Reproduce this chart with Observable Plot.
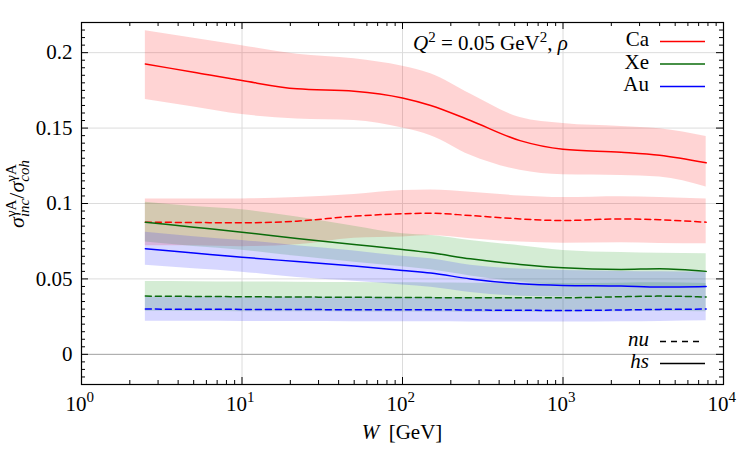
<!DOCTYPE html>
<html>
<head>
<meta charset="utf-8">
<script src="https://cdn.jsdelivr.net/npm/d3@7"></script>
<script src="https://cdn.jsdelivr.net/npm/@observablehq/plot@0.6"></script>
<style>
  body { margin: 0; background: #fff; }
  svg { display: block; }
</style>
</head>
<body>
<div id="chart"></div>
<script>
// Photon-nucleus incoherent/coherent cross-section ratio vs W, Q^2 = 0.05 GeV^2, rho meson.
// "hs" = hot-spot model (solid), "nu" = no-substructure model (dashed); bands = uncertainty.
const W = [2.5, 5, 10, 22, 50, 100, 150, 265, 540, 1000, 2300, 4000, 7800];

const caHs   = [0.1925, 0.1870, 0.1815, 0.1760, 0.1745, 0.1700, 0.1650, 0.1550, 0.1417, 0.1360, 0.1340, 0.1320, 0.1270];
const caHsHi = [0.2146, 0.2095, 0.2046, 0.1990, 0.1960, 0.1910, 0.1860, 0.1726, 0.1570, 0.1530, 0.1510, 0.1495, 0.1444];
const caHsLo = [0.1690, 0.1640, 0.1590, 0.1560, 0.1550, 0.1500, 0.1450, 0.1320, 0.1220, 0.1190, 0.1185, 0.1175, 0.1110];
const caNu   = [0.0876, 0.0874, 0.0872, 0.0883, 0.0916, 0.0932, 0.0936, 0.0920, 0.0898, 0.0887, 0.0898, 0.0892, 0.0876];
const caNuHi = [0.1030, 0.1030, 0.1030, 0.1040, 0.1060, 0.1086, 0.1090, 0.1075, 0.1050, 0.1040, 0.1045, 0.1040, 0.1030];
const caNuLo = [0.0720, 0.0720, 0.0714, 0.0726, 0.0770, 0.0778, 0.0788, 0.0766, 0.0744, 0.0737, 0.0740, 0.0735, 0.0733];

const xeHs   = [0.0876, 0.0843, 0.0810, 0.0768, 0.0728, 0.0695, 0.0673, 0.0633, 0.0596, 0.0574, 0.0563, 0.0567, 0.0550];
const xeHsHi = [0.1009, 0.0980, 0.0958, 0.0910, 0.0850, 0.0800, 0.0788, 0.0755, 0.0720, 0.0689, 0.0675, 0.0670, 0.0667];
const xeHsLo = [0.0745, 0.0715, 0.0690, 0.0650, 0.0610, 0.0580, 0.0560, 0.0520, 0.0480, 0.0460, 0.0450, 0.0450, 0.0440];
const xeNu   = [0.0386, 0.0384, 0.0382, 0.0380, 0.0378, 0.0377, 0.0376, 0.0375, 0.0375, 0.0375, 0.0382, 0.0386, 0.0380];
const xeNuHi = [0.0483, 0.0482, 0.0480, 0.0478, 0.0476, 0.0474, 0.0473, 0.0472, 0.0471, 0.0470, 0.0472, 0.0474, 0.0470];
const xeNuLo = [0.0285, 0.0284, 0.0283, 0.0282, 0.0281, 0.0280, 0.0280, 0.0279, 0.0279, 0.0279, 0.0282, 0.0284, 0.0282];

const auHs   = [0.0700, 0.0672, 0.0644, 0.0615, 0.0585, 0.0556, 0.0539, 0.0500, 0.0468, 0.0457, 0.0453, 0.0446, 0.0450];
const auHsHi = [0.0810, 0.0780, 0.0755, 0.0720, 0.0685, 0.0650, 0.0633, 0.0590, 0.0565, 0.0556, 0.0550, 0.0548, 0.0546];
const auHsLo = [0.0590, 0.0567, 0.0545, 0.0510, 0.0485, 0.0460, 0.0445, 0.0410, 0.0385, 0.0380, 0.0378, 0.0376, 0.0375];
const auNu   = [0.0300, 0.0299, 0.0298, 0.0297, 0.0296, 0.0296, 0.0296, 0.0294, 0.0292, 0.0291, 0.0294, 0.0298, 0.0300];
const auNuHi = [0.0380, 0.0380, 0.0379, 0.0378, 0.0378, 0.0377, 0.0377, 0.0376, 0.0375, 0.0375, 0.0377, 0.0379, 0.0380];
const auNuLo = [0.0220, 0.0219, 0.0218, 0.0217, 0.0216, 0.0216, 0.0216, 0.0215, 0.0214, 0.0214, 0.0216, 0.0218, 0.0222];

const nuclei = ["Ca", "Xe", "Au"];
const colors = { Ca: "#ff0000", Xe: "#0a6b0a", Au: "#0000ff" };
const bandColors = { Ca: "#ff1a1a", Xe: "#1a9a1a", Au: "#2a2aff" };

// Axis ticks
const xMajor = [1, 10, 100, 1000, 10000];
const xExponents = ["0", "1", "2", "3", "4"];
const yMajor = [0, 0.05, 0.1, 0.15, 0.2];
const yTickLabels = ["0", "0.05", "0.1", "0.15", "0.2"];
const xMinor = [];
for (let d = 0; d < 4; d++) for (let k = 2; k <= 9; k++) xMinor.push(k * 10 ** d);
const yMinor = [];
for (let i = -3; i <= 43; i++) if (i % 10 !== 0) yMinor.push(i * 0.005);

// Tidy rows
const table = {
  Ca: { hs: [caHs, caHsLo, caHsHi], nu: [caNu, caNuLo, caNuHi] },
  Xe: { hs: [xeHs, xeHsLo, xeHsHi], nu: [xeNu, xeNuLo, xeNuHi] },
  Au: { hs: [auHs, auHsLo, auHsHi], nu: [auNu, auNuLo, auNuHi] }
};
const rows = [];
for (const n of nuclei) for (const model of ["hs", "nu"]) {
  const [v, lo, hi] = table[n][model];
  W.forEach((w, i) => rows.push({ nucleus: n, model, W: w, y: v[i], lo: lo[i], hi: hi[i] }));
}

const width = 750, height = 450;
const mL = 81, mR = 27, mT = 22, mB = 66;
const PW = width - mL - mR, PH = height - mT - mB;
const FONT = "'Liberation Serif', 'DejaVu Serif', serif";
const majLen = 7, minLen = 4;

const marks = [
  Plot.ruleX(xMajor.slice(1, -1), { stroke: "#dcdcdc", strokeWidth: 1 }),
  Plot.ruleY(yMajor.slice(1), { stroke: "#dcdcdc", strokeWidth: 1 }),
  Plot.ruleY([0], { stroke: "#a0a0a0", strokeWidth: 1 })
];
for (const n of nuclei) for (const model of ["hs", "nu"]) {
  marks.push(Plot.areaY(rows, {
    filter: d => d.nucleus === n && d.model === model,
    x: "W", y1: "lo", y2: "hi", fill: bandColors[n], fillOpacity: 0.19, curve: "monotone-x"
  }));
}
for (const n of nuclei) for (const model of ["hs", "nu"]) {
  marks.push(Plot.line(rows, {
    filter: d => d.nucleus === n && d.model === model,
    x: "W", y: "y", stroke: colors[n], strokeWidth: 1.5,
    strokeDasharray: model === "nu" ? "6,4" : null, curve: "monotone-x"
  }));
}
marks.push(Plot.frame({ stroke: "black", strokeWidth: 1.2 }));
// inward ticks on all four sides
const tk = { stroke: "black", strokeWidth: 1 };
marks.push(
  Plot.tickX(xMajor, { x: d => d, insetTop: PH - majLen, ...tk }),
  Plot.tickX(xMajor, { x: d => d, insetBottom: PH - majLen, ...tk }),
  Plot.tickX(xMinor, { x: d => d, insetTop: PH - minLen, ...tk }),
  Plot.tickX(xMinor, { x: d => d, insetBottom: PH - minLen, ...tk }),
  Plot.tickY(yMajor, { y: d => d, insetRight: PW - majLen, ...tk }),
  Plot.tickY(yMajor, { y: d => d, insetLeft: PW - majLen, ...tk }),
  Plot.tickY(yMinor, { y: d => d, insetRight: PW - minLen, ...tk }),
  Plot.tickY(yMinor, { y: d => d, insetLeft: PW - minLen, ...tk })
);
// tick labels
marks.push(
  Plot.text(yMajor, { x: 1, y: d => d, text: (d, i) => yTickLabels[i], textAnchor: "end", dx: -9,
    fontSize: 21, fontFamily: FONT, fill: "black" }),
  Plot.text(xMajor, { x: d => d, y: -0.02, text: () => "10", textAnchor: "end", lineAnchor: "bottom",
    dx: 5, dy: 26, fontSize: 21, fontFamily: FONT, fill: "black" }),
  Plot.text(xMajor, { x: d => d, y: -0.02, text: (d, i) => xExponents[i], textAnchor: "start", lineAnchor: "bottom",
    dx: 5, dy: 17, fontSize: 15, fontFamily: FONT, fill: "black" })
);

const svgNode = Plot.plot({
  width, height,
  marginLeft: mL, marginRight: mR, marginTop: mT, marginBottom: mB,
  style: { background: "white", fontFamily: FONT, overflow: "visible" },
  x: { type: "log", domain: [1, 1e4], axis: null },
  y: { domain: [-0.02, 0.22], axis: null },
  marks
});
document.getElementById("chart").append(svgNode);

const svg = d3.select(svgNode);
const deco = svg.append("g").attr("font-family", FONT).attr("fill", "black").attr("text-anchor", "start");

// Lay out rich text pieces left to right; "stack" places a piece under the previous one (sub under sup)
function rich(parent, parts) {
  const g = parent.append("g");
  let x = 0, stackStart = 0;
  for (const p of parts) {
    const start = p.stack ? stackStart : x;
    const t = g.append("text").attr("x", start).attr("y", p.dy || 0).attr("text-anchor", "start")
      .attr("font-size", p.size || 21).attr("font-style", p.italic ? "italic" : null).text(p.t);
    const w = t.node().getComputedTextLength();
    if (p.stack) x = Math.max(x, start + w);
    else { stackStart = start; x = start + w; }
  }
  return { g, width: x };
}

// y-axis label
const yl = deco.append("g").attr("transform", "translate(24,194) rotate(-90)");
const ylr = rich(yl, [
  { t: "σ", italic: true, size: 22 },
  { t: "γA", size: 15, dy: -8 },
  { t: "inc", size: 15, dy: 5, italic: true, stack: true },
  { t: "/", size: 22 },
  { t: "σ", italic: true, size: 22 },
  { t: "γA", size: 15, dy: -8 },
  { t: "coh", size: 15, dy: 5, italic: true, stack: true }
]);
ylr.g.attr("transform", `translate(${-ylr.width / 2},0)`);

// x-axis label
const xl = deco.append("g").attr("transform", "translate(402,439)");
const xlr = rich(xl, [{ t: "W", italic: true }, { t: "\u2009 [GeV]" }]);
xlr.g.attr("transform", `translate(${-xlr.width / 2},0)`);

// panel annotation
const ttl = deco.append("g").attr("transform", "translate(413,50)");
rich(ttl, [
  { t: "Q", italic: true }, { t: "2", size: 15, dy: -8 },
  { t: " = 0.05 GeV" }, { t: "2", size: 15, dy: -8 },
  { t: ", " }, { t: "ρ", italic: true }
]);

// nucleus legend
const legendNames = ["Ca", "Xe", "Au"];
legendNames.forEach((n, i) => {
  const yb = 46 + i * 22.5;
  deco.append("text").attr("x", 649).attr("y", yb).attr("text-anchor", "end").attr("font-size", 21).text(n);
  deco.append("line").attr("x1", 660).attr("x2", 705).attr("y1", yb - 4.5).attr("y2", yb - 4.5)
    .attr("stroke", colors[n]).attr("stroke-width", 1.5);
});

// model legend
const modelNames = ["nu", "hs"];
modelNames.forEach((m, i) => {
  const yb = 346 + i * 22;
  deco.append("text").attr("x", 649).attr("y", yb).attr("text-anchor", "end").attr("font-size", 21)
    .attr("font-style", "italic").text(m);
  deco.append("line").attr("x1", 660).attr("x2", m === "nu" ? 701 : 705).attr("y1", yb - 4.5).attr("y2", yb - 4.5)
    .attr("stroke", "black").attr("stroke-width", 1.5)
    .attr("stroke-dasharray", m === "nu" ? "6,5" : null);
});
</script>
</body>
</html>
